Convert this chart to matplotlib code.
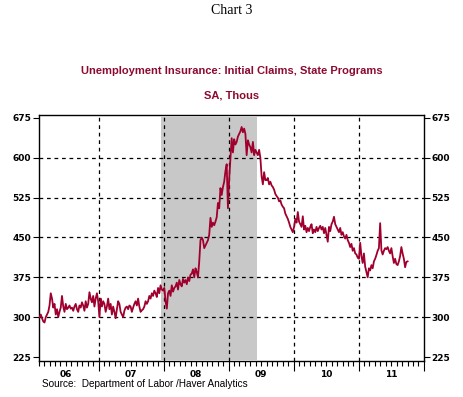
import matplotlib
matplotlib.use("Agg")
import matplotlib.pyplot as plt
import matplotlib.dates as mdates
import matplotlib.transforms as mtransforms
import pandas as pd
import datetime as dt

# Weekly initial claims (thousands), week ending Saturdays from 2006-02-04
claims_2006 = [300, 305, 298, 292,
               290, 300, 305, 310,
               322, 345, 335, 318, 325,
               305, 315, 300, 310,
               318, 340, 320, 310,
               325, 315, 318, 322, 316,
               318, 312, 320, 325,
               315, 310, 322, 318, 328,
               322, 312, 330, 318,
               325, 347, 335, 328,
               340, 320, 335, 345, 330]
claims_2007 = [300, 335, 320, 330,
               325, 310, 320, 335,
               315, 325, 305, 320, 310,
               298, 315, 330, 325,
               310, 305, 300, 312,
               318, 320, 315, 322, 320,
               310, 318, 325, 330,
               322, 335, 320, 310,
               313, 315, 320, 330, 325,
               330, 340, 335, 345,
               340, 350, 345, 338,
               355, 345, 360, 352, 350]
claims_2008 = [355, 330, 316, 345,
               350, 340, 360, 348, 355,
               358, 365, 352, 370,
               362, 358, 372, 365,
               370, 362, 375, 368, 380,
               382, 390, 375, 392,
               385, 375, 405, 445,
               450, 445, 430, 435, 440,
               445, 455, 487, 470,
               478, 473, 480, 488,
               515, 505, 543, 530, 545,
               555, 575, 588, 505]
claims_2009 = [560, 600, 637, 610, 635,
               625, 630, 640, 645,
               650, 658, 648, 655,
               645, 605, 633, 625,
               620, 610, 630, 605, 615,
               610, 605, 615, 600,
               565, 550, 573, 558,
               558, 562, 550, 555, 548,
               545, 540, 532, 528,
               525, 518, 520, 512, 508,
               505, 495, 490, 485,
               478, 470, 465, 460]
claims_2010 = [470, 485, 478, 498, 480,
               475, 470, 490, 465,
               472, 460, 468, 462,
               470, 475, 458, 465,
               460, 470, 462, 468, 472,
               465, 470, 458, 468,
               455, 442, 470, 462, 475,
               480, 489, 475, 470,
               465, 460, 468, 455,
               460, 452, 448, 455, 445,
               440, 432, 438, 425,
               430, 420, 418, 412]
claims_2011 = [410, 440, 415, 402, 420,
               395, 385, 375, 392,
               388, 398, 392, 405,
               410, 417, 425, 430, 477,
               426, 418, 425, 430,
               428, 432, 425, 420,
               430, 415, 402, 410, 400,
               398, 405, 415, 432,
               420, 410, 394, 404,
               405]

claims = claims_2006 + claims_2007 + claims_2008 + claims_2009 + claims_2010 + claims_2011
dates = pd.date_range(start="2006-02-04", periods=len(claims), freq="W-SAT")

years = [2006, 2007, 2008, 2009, 2010, 2011]
year_labels = ["06", "07", "08", "09", "10", "11"]
yticks = [225, 300, 375, 450, 525, 600, 675]
recession = (dt.datetime(2007, 12, 15), dt.datetime(2009, 6, 10))

line_color = "#A0002E"
title_color = "#8C0A30"

fig = plt.figure(figsize=(4.64, 3.97), dpi=100)
ax = fig.add_axes([39 / 464, 36 / 397, 385 / 464, 246 / 397])

ax.axvspan(recession[0], recession[1], ymin=0.005, ymax=0.99,
           color="#C8C8C8", zorder=0, lw=0)

for v in yticks[1:-1]:
    ax.axhline(v, color="black", lw=0.9, ls=(0, (3, 3)), zorder=1)
for y in years[1:]:
    ax.axvline(dt.datetime(y, 1, 1), color="black", lw=0.9, ls=(0, (3, 3)), zorder=1)

ax.plot(dates, claims, color=line_color, lw=1.3, zorder=3)

ax.set_xlim(dt.datetime(2006, 2, 1), dt.datetime(2012, 1, 1))
ax.set_ylim(217.5, 680.6)

ax.set_yticks(yticks)
ax.tick_params(axis="y", which="both", direction="out", length=4, width=0.8,
               labelsize=6.5, pad=1.5, left=True, right=True,
               labelleft=True, labelright=True)
for lab in ax.get_yticklabels():
    lab.set_fontweight("bold")

ax.xaxis.set_major_locator(mdates.YearLocator())
ax.xaxis.set_minor_locator(mdates.MonthLocator())
ax.xaxis.set_major_formatter(plt.NullFormatter())
ax.tick_params(axis="x", which="major", direction="out", length=7, width=0.8)
ax.tick_params(axis="x", which="minor", direction="out", length=3.5, width=0.8)

trans = mtransforms.blended_transform_factory(ax.transData, ax.transAxes)
for y, lab in zip(years, year_labels):
    ax.text(dt.datetime(y, 7, 1), -0.038, lab, transform=trans, ha="center", va="top",
            fontsize=6.5, fontweight="bold")

for s in ax.spines.values():
    s.set_linewidth(1.0)

fig.text(0.5, 1 - 10 / 397, "Chart 3", ha="center", va="center",
         family="Liberation Serif", fontsize=10, color="black")
fig.text(0.5, 1 - 71 / 397, "Unemployment Insurance: Initial Claims, State Programs",
         ha="center", va="center", family="Liberation Sans", fontsize=8,
         fontweight="bold", color=title_color)
fig.text(0.5, 1 - 95 / 397, "SA, Thous", ha="center", va="center",
         family="Liberation Sans", fontsize=8, fontweight="bold", color=title_color)
fig.text(42 / 464, 1 - 384 / 397, "Source:  Department of Labor /Haver Analytics",
         ha="left", va="center", family="Liberation Sans", fontsize=7.2, color="black")

fig.savefig("out.png", dpi=100)
